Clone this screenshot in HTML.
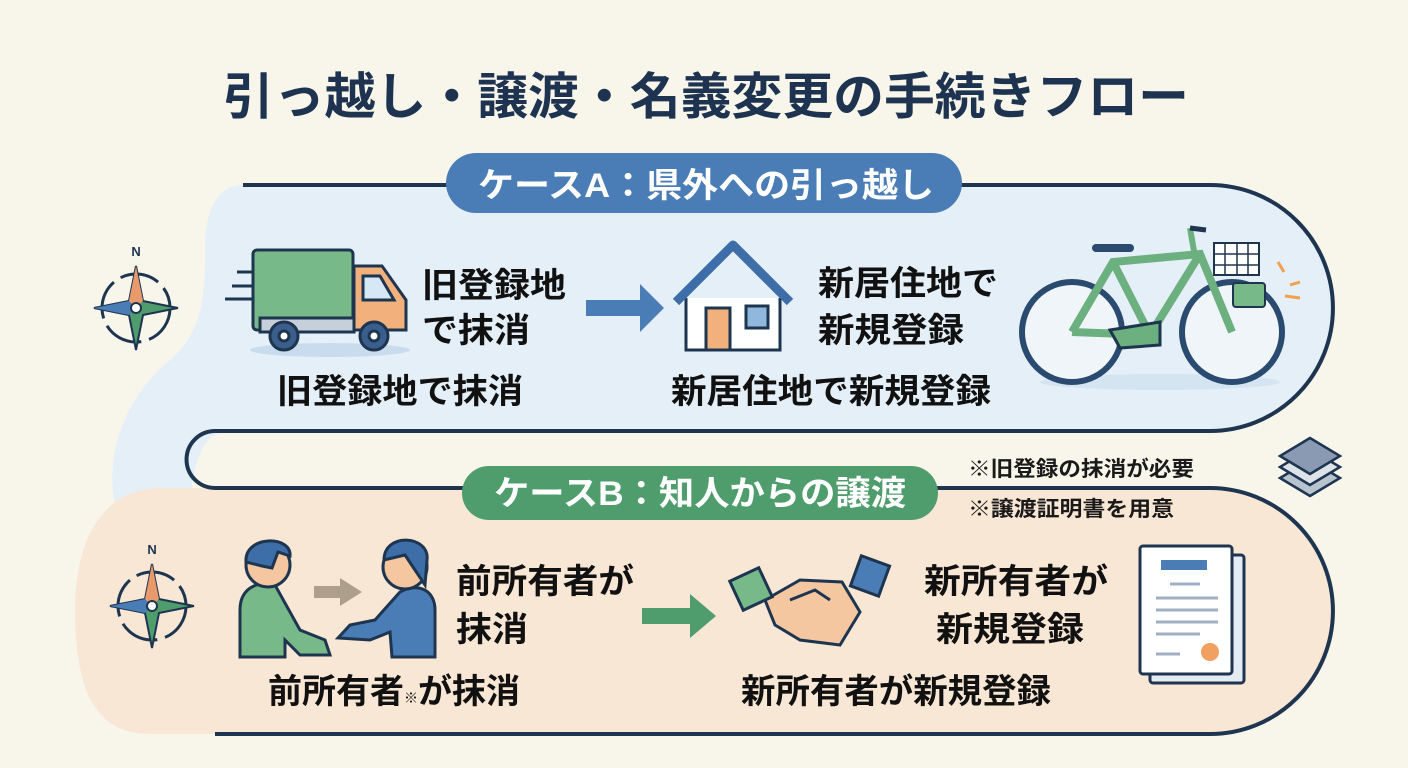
<!DOCTYPE html>
<html><head><meta charset="utf-8"><style>
html,body{margin:0;padding:0;width:1408px;height:768px;overflow:hidden;background:#f8f5eb;}
svg{display:block}
text{font-family:"Liberation Sans","Noto Sans CJK JP",sans-serif;font-weight:bold;}
</style></head><body>
<svg width="1408" height="768" viewBox="0 0 1408 768">
<rect x="0" y="0" width="1408" height="768" rx="14" fill="#f8f5eb"/>
<path d="M243,185 L1210,185 A123,123 0 0 1 1210,431 L230,431 C200,431 190,470 190,520 L120,520 C100,470 120,400 170,360 C205,330 205,290 205,250 C205,205 220,185 243,185 Z" fill="#e4eff8"/>
<path d="M230,488 L1210,488 A123,123 0 0 1 1210,734 L150,734 C95,734 75,690 75,610 C75,530 110,488 160,488 Z" fill="#f9e7d6"/>
<path d="M243,185 L1210,185 A123,123 0 0 1 1210,431 L215,431 A28.5,28.5 0 0 0 215,488 L1210,488 A123,123 0 0 1 1210,734 L215,734" fill="none" stroke="#1e3550" stroke-width="4"/>
<text x="706" y="114" font-size="50" fill="#1e3350" text-anchor="middle" textLength="966" lengthAdjust="spacingAndGlyphs">引っ越し・譲渡・名義変更の手続きフロー</text>
<rect x="446" y="153" width="516" height="60" rx="30" fill="#4a7db6"/>
<text x="706" y="197" font-size="34" fill="#fff" text-anchor="middle" textLength="456" lengthAdjust="spacingAndGlyphs">ケースA：県外への引っ越し</text>
<rect x="462" y="466" width="476" height="54" rx="27" fill="#4f9d6c"/>
<text x="700" y="505" font-size="34" fill="#fff" text-anchor="middle" textLength="412" lengthAdjust="spacingAndGlyphs">ケースB：知人からの譲渡</text>
<text x="968" y="476" font-size="21" fill="#1a1a1a" textLength="226" lengthAdjust="spacingAndGlyphs">※旧登録の抹消が必要</text>
<text x="968" y="516" font-size="21" fill="#1a1a1a" textLength="206" lengthAdjust="spacingAndGlyphs">※譲渡証明書を用意</text>
<g transform="translate(136,308)">
<text x="0" y="-52" font-size="13" fill="#1e3550" text-anchor="middle">N</text>
<circle r="34" fill="none" stroke="#1e3550" stroke-width="3" stroke-dasharray="40 8"/>
<polygon points="0,-42 7,-7 42,0 7,7 0,42 -7,7 -42,0 -7,-7" fill="#4f9d6c" stroke="#1e3550" stroke-width="2"/>
<polygon points="0,-42 7,-7 0,0 -7,-7" fill="#e89a6a"/>
<polygon points="-42,0 -7,-7 0,0 -7,7" fill="#4a7db6"/>
<circle r="5" fill="#fff" stroke="#1e3550" stroke-width="2"/>
</g>
<g transform="translate(152,606)">
<text x="0" y="-52" font-size="13" fill="#1e3550" text-anchor="middle">N</text>
<circle r="34" fill="none" stroke="#1e3550" stroke-width="3" stroke-dasharray="40 8"/>
<polygon points="0,-42 7,-7 42,0 7,7 0,42 -7,7 -42,0 -7,-7" fill="#4f9d6c" stroke="#1e3550" stroke-width="2"/>
<polygon points="0,-42 7,-7 0,0 -7,-7" fill="#e89a6a"/>
<polygon points="-42,0 -7,-7 0,0 -7,7" fill="#4a7db6"/>
<circle r="5" fill="#fff" stroke="#1e3550" stroke-width="2"/>
</g>
<!-- truck -->
<ellipse cx="330" cy="350" rx="80" ry="7" fill="#c9dcee"/>
<g stroke="#1e3550" stroke-width="3">
<line x1="237" y1="272" x2="285" y2="272"/><line x1="232" y1="286" x2="280" y2="286"/><line x1="225" y1="299" x2="273" y2="299"/>
<rect x="253" y="250" width="100" height="80" rx="4" fill="#78b98a"/>
<path d="M354,266 L382,266 L406,300 L406,330 L354,330 Z" fill="#f2b07c"/>
<path d="M363,276 L380,276 L394,300 L363,300 Z" fill="#d6e8f5"/>
<rect x="260" y="318" width="94" height="14" fill="#c6d0da"/>
<circle cx="284" cy="336" r="14" fill="#3a5f8c"/><circle cx="284" cy="336" r="5" fill="#fff"/>
<circle cx="374" cy="336" r="14" fill="#3a5f8c"/><circle cx="374" cy="336" r="5" fill="#fff"/>
</g>
<text x="422" y="297" font-size="34" fill="#111" textLength="144" lengthAdjust="spacingAndGlyphs">旧登録地</text>
<text x="422" y="342" font-size="34" fill="#111" textLength="108" lengthAdjust="spacingAndGlyphs">で抹消</text>
<text x="277" y="403" font-size="34" fill="#111" textLength="246" lengthAdjust="spacingAndGlyphs">旧登録地で抹消</text>
<polygon points="586,300 640,300 640,284 664,308 640,332 640,316 586,316" fill="#4a7db6"/>
<g stroke="#1e3550" stroke-width="3">
<path d="M686,298 L686,350 L780,350 L780,298" fill="#fff"/>
<path d="M676,302 L733,245 L790,302" fill="none" stroke="#3d6ea8" stroke-width="9" stroke-linejoin="round"/>
<rect x="706" y="308" width="24" height="42" fill="#f2b07c"/>
<rect x="746" y="306" width="22" height="22" fill="#8fb8dc"/>
</g>
<text x="818" y="295" font-size="34" fill="#111" textLength="180" lengthAdjust="spacingAndGlyphs">新居住地で</text>
<text x="818" y="342" font-size="34" fill="#111" textLength="146" lengthAdjust="spacingAndGlyphs">新規登録</text>
<text x="671" y="403" font-size="34" fill="#111" textLength="320" lengthAdjust="spacingAndGlyphs">新居住地で新規登録</text>
<!-- bicycle -->
<g stroke="#1e3550" stroke-width="3" fill="none">
<ellipse cx="1160" cy="382" rx="120" ry="8" fill="#d5e4f1" stroke="none"/>
<circle cx="1072" cy="332" r="50" stroke-width="6" stroke="#2b4a70" fill="#f0f5fa"/>
<circle cx="1232" cy="332" r="50" stroke-width="6" stroke="#2b4a70" fill="#f0f5fa"/>
<path d="M1072,332 L1113,262 L1200,254 L1232,332 M1113,262 L1150,335 L1200,254 M1150,335 L1072,332" stroke="#6bb07e" stroke-width="8"/>
<path d="M1195,257 L1190,228" stroke="#6bb07e" stroke-width="6"/>
<path d="M1190,228 L1206,230" stroke="#1e3550" stroke-width="5"/>
<path d="M1096,248 L1130,248" stroke="#2b4a70" stroke-width="8" stroke-linecap="round"/>
<rect x="1214" y="243" width="45" height="32" fill="#fff" stroke-width="2"/>
<path d="M1225,243 V275 M1237,243 V275 M1248,243 V275 M1214,254 H1259 M1214,265 H1259" stroke-width="1.5"/>
<path d="M1110,330 L1160,322 L1160,345 L1120,348 Z" fill="#6bb07e"/>
<rect x="1233" y="283" width="32" height="24" rx="3" fill="#78b98a" stroke-width="2"/>
</g>
<path d="M1278,262 L1284,272 M1290,285 L1300,282 M1285,296 L1300,298" stroke="#f0a050" stroke-width="3"/>
<g stroke="#1e3550" stroke-width="2.5" fill="#8a9ab2">
<path d="M1280,478 L1310,496 L1340,478 L1310,460Z" fill="#b8c3d0"/>
<path d="M1280,467 L1310,485 L1340,467 L1310,449Z" fill="#dde3e8"/>
<path d="M1280,456 L1310,474 L1340,456 L1310,438Z"/>
</g>
<!-- people -->
<g stroke="#1e3550" stroke-width="3">
<path d="M240,657 L240,610 C240,590 255,580 275,585 L300,630 L325,640 L330,655 L300,655 L285,640 L285,657Z" fill="#78b98a"/>
<circle cx="268" cy="565" r="22" fill="#f5c7a0"/>
<path d="M246,562 C244,535 292,535 290,556 L278,552 L272,568 L262,566 Z" fill="#3d6ea8"/>
<path d="M435,657 L435,610 C435,590 418,582 400,592 L375,620 L350,625 L338,638 L370,640 L390,632 L392,657Z" fill="#4a7db6"/>
<circle cx="405" cy="567" r="22" fill="#f5c7a0"/>
<path d="M384,560 C384,532 430,535 427,560 L425,585 L415,570 L405,555 Z" fill="#3d6ea8"/>
</g>
<polygon points="314,586 340,586 340,578 362,592 340,606 340,598 314,598" fill="#ad9f8c"/>
<text x="456" y="593" font-size="34" fill="#111" textLength="178" lengthAdjust="spacingAndGlyphs">前所有者が</text>
<text x="456" y="641" font-size="34" fill="#111" textLength="72" lengthAdjust="spacingAndGlyphs">抹消</text>
<text x="268" y="703" font-size="34" fill="#111">前所有者<tspan font-size="14">※</tspan>が抹消</text>
<polygon points="642,608 690,608 690,594 716,616 690,638 690,624 642,624" fill="#4f9d6c"/>
<!-- handshake -->
<g stroke="#1e3550" stroke-width="3">
<path d="M765,600 L800,580 L842,582 L860,612 L840,645 L800,640 L775,625 Z" fill="#f5c7a0"/>
<path d="M790,600 L815,590 L830,600" fill="none"/>
<rect x="735" y="573" width="32" height="32" fill="#78b98a" transform="rotate(-25 751 589)"/>
<rect x="855" y="560" width="30" height="32" fill="#4a7db6" transform="rotate(20 870 576)"/>
</g>
<text x="924" y="593" font-size="34" fill="#111" textLength="184" lengthAdjust="spacingAndGlyphs">新所有者が</text>
<text x="936" y="641" font-size="34" fill="#111" textLength="148" lengthAdjust="spacingAndGlyphs">新規登録</text>
<text x="741" y="703" font-size="34" fill="#111" textLength="310" lengthAdjust="spacingAndGlyphs">新所有者が新規登録</text>
<g stroke="#1e3550" stroke-width="3">
<rect x="1150" y="555" width="94" height="128" rx="3" fill="#e5ebf2"/>
<rect x="1140" y="546" width="92" height="128" rx="3" fill="#fff"/>
</g>
<rect x="1161" y="560" width="46" height="10" fill="#4a7db6"/>
<g stroke="#9fb0c2" stroke-width="3"><line x1="1170" y1="584" x2="1200" y2="584"/><line x1="1156" y1="598" x2="1218" y2="598"/><line x1="1156" y1="610" x2="1218" y2="610"/><line x1="1156" y1="622" x2="1218" y2="622"/><line x1="1156" y1="634" x2="1200" y2="634"/><line x1="1156" y1="654" x2="1180" y2="654"/></g>
<circle cx="1210" cy="652" r="9" fill="#f0a060"/>
</svg>
</body></html>
